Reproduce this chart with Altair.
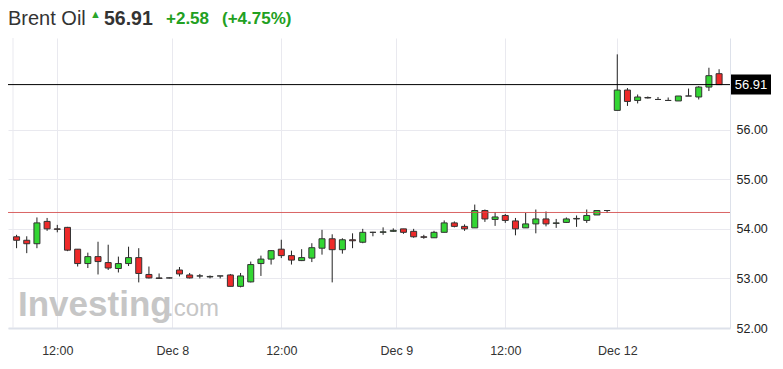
import altair as alt
import pandas as pd

# ---- data (hourly candles, weekend gap removed) ----
opens = [53.84, 53.77, 53.70, 54.15, 54.00, 54.03, 53.59, 53.30, 53.44, 53.32,
         53.20, 53.30, 53.42, 53.08, 53.01, 53.01, 53.17, 53.07, 53.05, 53.03,
         53.05, 53.07, 52.84, 52.93, 53.30, 53.39, 53.59, 53.46, 53.36, 53.41,
         53.61, 53.80, 53.58, 53.78, 53.73, 53.93, 53.93, 53.95, 54.00, 53.95,
         53.84, 53.82, 53.93, 54.12, 54.05, 54.02, 54.37, 54.19, 54.27, 54.16,
         54.02, 54.10, 54.20, 54.11, 54.13, 54.20, 54.17, 54.28, 54.37, 56.39,
         56.80, 56.59, 56.65, 56.61, 56.59, 56.58, 56.68, 56.66, 56.86, 57.13]
highs = [53.88, 53.85, 54.23, 54.22, 54.08, 54.04, 53.59, 53.52, 53.74, 53.68,
         53.44, 53.64, 53.61, 53.24, 53.10, 53.02, 53.23, 53.11, 53.09, 53.06,
         53.05, 53.09, 53.11, 53.34, 53.46, 53.57, 53.78, 53.56, 53.59, 53.71,
         53.98, 53.89, 53.81, 53.91, 54.00, 53.94, 54.03, 54.01, 54.00, 54.00,
         53.88, 53.96, 54.17, 54.15, 54.09, 54.49, 54.39, 54.34, 54.30, 54.22,
         54.32, 54.39, 54.35, 54.20, 54.23, 54.27, 54.39, 54.38, 54.38, 57.52,
         56.84, 56.71, 56.67, 56.66, 56.65, 56.68, 56.83, 56.88, 57.25, 57.22]
lows = [53.61, 53.51, 53.61, 53.96, 53.93, 53.55, 53.24, 53.21, 53.08, 53.17,
        53.12, 53.25, 52.92, 53.00, 53.00, 53.00, 53.04, 53.00, 53.00, 53.00,
        53.00, 52.84, 52.82, 52.92, 53.05, 53.28, 53.41, 53.28, 53.35, 53.33,
        53.48, 52.92, 53.50, 53.61, 53.71, 53.85, 53.88, 53.94, 53.90, 53.82,
        53.80, 53.82, 53.93, 54.03, 53.96, 54.02, 54.14, 54.06, 54.12, 53.87,
        54.02, 53.91, 54.05, 54.02, 54.12, 54.04, 54.12, 54.28, 54.32, 56.39,
        56.48, 56.53, 56.63, 56.61, 56.59, 56.58, 56.68, 56.61, 56.78, 56.91]
closes = [53.77, 53.70, 54.12, 54.00, 53.99, 53.57, 53.30, 53.44, 53.34, 53.21,
          53.30, 53.42, 53.10, 53.01, 53.00, 53.01, 53.09, 53.01, 53.05, 53.04,
          53.05, 52.84, 53.05, 53.28, 53.39, 53.56, 53.46, 53.37, 53.42, 53.62,
          53.80, 53.58, 53.78, 53.76, 53.93, 53.93, 53.94, 53.97, 53.93, 53.84,
          53.83, 53.93, 54.12, 54.05, 54.00, 54.37, 54.20, 54.24, 54.17, 54.00,
          54.10, 54.20, 54.10, 54.12, 54.20, 54.21, 54.27, 54.37, 54.37, 56.80,
          56.57, 56.66, 56.64, 56.61, 56.59, 56.68, 56.68, 56.86, 57.09, 56.91]

tick_pos = [4, 15.3, 26, 37.3, 48, 59]
tick_labels = ["12:00", "Dec 8", "12:00", "Dec 9", "12:00", "Dec 12"]
y_ticks = [52, 53, 54, 55, 56]
prev_close = 54.33
last_price = 56.91
header_texts = ["Brent Oil", "▲", "56.91", "+2.58", "(+4.75%)"]
watermark_texts = ["Investing", ".com"]

# ---- styling ----
FONT = "Liberation Sans"
GREEN = "#33d633"
RED = "#ee2a2a"
GRID = "#e9e9ef"
BORDER = "#dde1ea"
W, H = 722, 290
X_MIN, X_MAX = -0.35, 69.58

df = pd.DataFrame({"idx": list(range(len(opens))), "open": opens,
                   "high": highs, "low": lows, "close": closes})
df["dir"] = ["up" if c > o else ("down" if c < o else "flat")
             for o, c in zip(df["open"], df["close"])]
one = pd.DataFrame({"k": [0]})

xscale = alt.Scale(domain=[X_MIN, X_MAX], nice=False, zero=False)
yscale = alt.Scale(domain=[52, 57.85], nice=False, zero=False)

label_expr = ("[" + ",".join(f"'{t}'" for t in tick_labels) + "][indexof(["
              + ",".join(str(v) for v in tick_pos) + "], datum.value)]")

xaxis = alt.Axis(values=tick_pos, labelExpr=label_expr, title=None)
yaxis = alt.Axis(orient="right", values=y_ticks, format=".2f", title=None)


def txt(t, x, y, **kw):
    kw.setdefault("font", FONT)
    return alt.Chart(one).mark_text(text=t, align="left", **kw).encode(
        x=alt.value(x), y=alt.value(y))


watermark = alt.layer(
    txt(watermark_texts[0], 10, 278, fontSize=35, fontWeight="bold",
        color="#c6c6c6", baseline="alphabetic"),
    txt(watermark_texts[1], 159, 278, fontSize=24, color="#c6c6c6",
        baseline="alphabetic"),
)

wicks = alt.Chart(df).mark_rule(color="#222", strokeWidth=1).encode(
    x=alt.X("idx:Q", scale=xscale, axis=xaxis),
    y=alt.Y("low:Q", scale=yscale, axis=yaxis),
    y2="high:Q",
)

left_border = alt.Chart(one).mark_rule(color=GRID, strokeWidth=1).encode(
    x=alt.XDatum(X_MIN, scale=xscale, axis=xaxis))

bodies = alt.Chart(df).mark_bar(size=6, stroke="#333", strokeWidth=1).encode(
    x=alt.X("idx:Q", scale=xscale, axis=xaxis),
    y=alt.Y("open:Q", scale=yscale, axis=yaxis),
    y2="close:Q",
    color=alt.Color("dir:N", scale=alt.Scale(domain=["up", "down", "flat"],
                                             range=[GREEN, RED, "#333"]), legend=None),
)

prev_line = alt.Chart(one).mark_rule(color="#d44a4a", strokeWidth=1, opacity=0.85).encode(
    y=alt.YDatum(prev_close, scale=yscale, axis=yaxis))
last_line = alt.Chart(one).mark_rule(color="#000", strokeWidth=1).encode(
    y=alt.YDatum(last_price, scale=yscale, axis=yaxis))

price_box = alt.Chart(one).mark_point(shape="M-1,-0.5H1V0.5H-1Z", size=1600, filled=True,
                                      color="#000", opacity=1).encode(
    x=alt.value(743), y=alt.YDatum(last_price, scale=yscale, axis=yaxis))
price_txt = alt.Chart(one).mark_text(text=f"{last_price:.2f}", color="#fff", fontSize=13,
                                     font=FONT, align="center", baseline="middle").encode(
    x=alt.value(743), y=alt.YDatum(last_price, scale=yscale, axis=yaxis))

header = alt.layer(
    txt(header_texts[0], 0, -19, fontSize=20, color="#333", baseline="middle"),
    txt(header_texts[1], 82, -23, fontSize=11, color="#2aa52a", baseline="middle"),
    txt(header_texts[2], 96, -19, fontSize=19.5, fontWeight="bold", color="#333",
        baseline="middle"),
    txt(header_texts[3], 158, -19, fontSize=17, fontWeight="bold", color="#22a022",
        baseline="middle"),
    txt(header_texts[4], 214, -19, fontSize=17, fontWeight="bold", color="#22a022",
        baseline="middle"),
)

chart = alt.layer(
    wicks, left_border, watermark, bodies, prev_line, last_line, price_box, price_txt,
    header
).properties(
    width=W, height=H,
    autosize=alt.AutoSizeParams(type="none"),
    padding={"left": 0, "top": 30, "right": 45, "bottom": 28},
).configure(
    font=FONT, background="white"
).configure_view(
    stroke=None
).configure_axisX(
    grid=True, gridColor=GRID, ticks=False, domain=True, domainColor=BORDER,
    domainWidth=2, labelPadding=16, labelFont=FONT, labelFontSize=12.5,
    labelColor="#333", labelFlush=False, labelOverlap=False
).configure_axisY(
    grid=True, gridColor=GRID, ticks=False, domain=True, domainColor=BORDER,
    labelPadding=6, labelFont=FONT, labelFontSize=12.5, labelColor="#222",
    labelFlush=False, labelOverlap=False
)

chart.save("out.html", embed_options={"renderer": "svg", "actions": False})
